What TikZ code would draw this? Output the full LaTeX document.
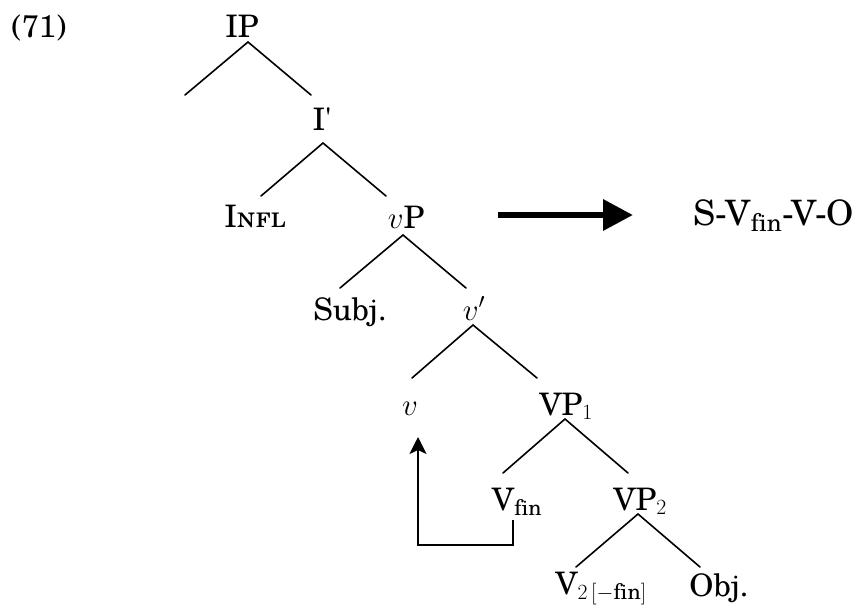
\RequirePackage{fix-cm}
\documentclass[tikz,border=0pt]{standalone}
\usepackage{fontspec}
\setmainfont{TeX Gyre Schola}
\usetikzlibrary{arrows.meta}
\tikzset{
  lbl/.style={anchor=base, inner sep=0pt, font=\fontsize{31}{37}\selectfont},
  biglbl/.style={anchor=base, inner sep=0pt, font=\fontsize{35}{42}\selectfont},
  branch/.style={line width=1.6pt, line cap=round},
  move/.style={line width=1.9pt, -{Stealth[length=17pt,width=17pt,inset=4pt]}},
  bigarrow/.style={line width=6.5pt, -{Triangle[length=30pt,width=30pt]}}
}
\begin{document}
\begin{tikzpicture}[x=1pt,y=-1pt]
\useasboundingbox (0,0) rectangle (864,605);
% labels
\node[lbl] (ex)   at (39,37)   {(71)};
\node[lbl] (IP)   at (242,37)  {IP};
\node[lbl] (Ibar) at (322,130) {I\textquotesingle};
\node[lbl] (INFL) at (255,227) {\textsc{Infl}};
\node[lbl] (vP)   at (406,228) {$v$P};
\node[lbl] (Subj) at (350,320) {Subj.};
\node[lbl] (vbar) at (474,320) {$v'$};
\node[lbl] (v)    at (410,415) {$v$};
\node[lbl] (VP1)  at (566,415) {VP$_1$};
\node[lbl] (Vfin) at (517,510) {V$_{\mathrm{fin}}$};
\node[lbl] (VP2)  at (640,510) {VP$_2$};
\node[lbl] (V2)   at (601,594) {V$_{2\,[-\mathrm{fin}]}$};
\node[lbl] (Obj)  at (719,596) {Obj.};
\node[biglbl] (SVO) at (774,225) {S-V$_{\mathrm{fin}}$-V-O};
% branch points
\coordinate (IPa) at (248,42);   \coordinate (IPl) at (185,95);   \coordinate (IPr) at (311,95);
\coordinate (Ia)  at (323,143);  \coordinate (Il)  at (261,196);  \coordinate (Ir)  at (386,196);
\coordinate (vPa) at (403,235);  \coordinate (vPl) at (340,288);  \coordinate (vPr) at (466,288);
\coordinate (vba) at (473,325);  \coordinate (vbl) at (412,378);  \coordinate (vbr) at (537,378);
\coordinate (V1a) at (565,419);  \coordinate (V1l) at (503,473);  \coordinate (V1r) at (628,473);
\coordinate (V2a) at (638,514);  \coordinate (V2l) at (576,567);  \coordinate (V2r) at (700,567);
\draw[branch] (IPl) -- (IPa) -- (IPr);
\draw[branch] (Il) -- (Ia) -- (Ir);
\draw[branch] (vPl) -- (vPa) -- (vPr);
\draw[branch] (vbl) -- (vba) -- (vbr);
\draw[branch] (V1l) -- (V1a) -- (V1r);
\draw[branch] (V2l) -- (V2a) -- (V2r);
% movement arrow
\coordinate (mvs) at (513,520);
\coordinate (mvc) at (418,545);
\coordinate (mvt) at (418,437);
\draw[move] (mvs) |- (mvc) -- (mvt);
% big arrow
\coordinate (bas) at (498,215);
\coordinate (bat) at (633,215);
\draw[bigarrow] (bas) -- (bat);
\end{tikzpicture}
\end{document}
